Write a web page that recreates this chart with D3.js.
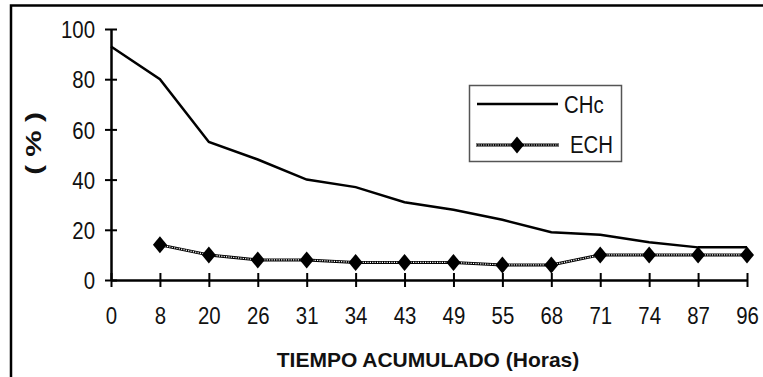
<!DOCTYPE html>
<html>
<head>
<meta charset="utf-8">
<script src="https://cdn.jsdelivr.net/npm/d3@7"></script>
<style>
  body { margin: 0; background: #fff; }
  text { font-family: "Liberation Sans", Arial, sans-serif; fill: #111; }
</style>
</head>
<body>
<div class="svg_area"></div>
<script>
// chart data
var horas = ["0", "8", "20", "26", "31", "34", "43", "49", "55", "68", "71", "74", "87", "96"];
var chc = [93, 80, 55, 48, 40, 37, 31, 28, 24, 19, 18, 15, 13, 13];
var ech = [null, 14, 10, 8, 8, 7, 7, 7, 6, 6, 10, 10, 10, 10];
var yTicks = [0, 20, 40, 60, 80, 100];

var svgWidth = 763;
var svgHeight = 377;

var margin = { top: 29, right: 16, bottom: 97, left: 111 };
var chartWidth = svgWidth - margin.left - margin.right;
var chartHeight = svgHeight - margin.top - margin.bottom;

// the original text is narrow, so squeeze it horizontally
var squeeze = 0.85;

var svg = d3.select(".svg_area")
  .append("svg")
  .attr("width", svgWidth)
  .attr("height", svgHeight);

// outer frame
svg.append("path")
  .attr("d", "M11,377 L11,5.5 L763,5.5")
  .attr("fill", "none")
  .attr("stroke", "#000")
  .attr("stroke-width", 2.5);

var chartGroup = svg.append("g")
  .attr("transform", `translate(${margin.left}, ${margin.top})`);

var xScale = d3.scalePoint()
  .domain(horas)
  .range([0, chartWidth]);

var yScale = d3.scaleLinear()
  .domain([0, 100])
  .range([chartHeight, 0]);

// axes
var bottomAxis = d3.axisBottom(xScale).tickSizeInner(7).tickSizeOuter(0);
var leftAxis = d3.axisLeft(yScale).tickValues(yTicks).tickSizeInner(6).tickSizeOuter(0);

var xAxisG = chartGroup.append("g")
  .attr("transform", `translate(0, ${chartHeight})`)
  .call(bottomAxis);
var yAxisG = chartGroup.append("g")
  .call(leftAxis);

[xAxisG, yAxisG].forEach(function(g) {
  g.select(".domain").attr("stroke", "#000").attr("stroke-width", 2.5);
  g.selectAll(".tick text")
    .attr("font-size", 24)
    .attr("font-family", null)
    .attr("fill", "#111")
    .attr("transform", `scale(${squeeze},1)`);
});
// ticks cross the axis line
xAxisG.selectAll(".tick line").attr("y1", -7).attr("y2", 7).attr("stroke", "#000").attr("stroke-width", 2);
yAxisG.selectAll(".tick line").attr("x1", -6).attr("x2", 6).attr("stroke", "#000").attr("stroke-width", 2);
xAxisG.selectAll(".tick text").attr("y", 44).attr("dy", 0);
yAxisG.selectAll(".tick text").attr("x", -16 / squeeze).attr("dy", "0.36em");

// CHc line
var lineChc = d3.line()
  .x((d, i) => xScale(horas[i]))
  .y(d => yScale(d));

chartGroup.append("path")
  .attr("d", lineChc(chc))
  .attr("fill", "none")
  .attr("stroke", "#000")
  .attr("stroke-width", 2.5);

// ECH line (textured, drawn as black + white dots)
var lineEch = d3.line()
  .defined(d => d !== null)
  .x((d, i) => xScale(horas[i]))
  .y(d => yScale(d));

chartGroup.append("path")
  .attr("d", lineEch(ech))
  .attr("fill", "none")
  .attr("stroke", "#000")
  .attr("stroke-width", 3);
chartGroup.append("path")
  .attr("d", lineEch(ech))
  .attr("fill", "none")
  .attr("stroke", "#fff")
  .attr("stroke-width", 1.2)
  .attr("stroke-dasharray", "1.2,1.2");

var diamond = "M0,-8.5 L7,0 L0,8.5 L-7,0 Z";

chartGroup.selectAll(".marker")
  .data(ech.map((v, i) => ({ h: horas[i], v: v })).filter(d => d.v !== null))
  .enter()
  .append("path")
  .attr("class", "marker")
  .attr("d", diamond)
  .attr("transform", d => `translate(${xScale(d.h)}, ${yScale(d.v)})`)
  .attr("fill", "#000");

// axis labels
svg.append("text")
  .attr("x", 428)
  .attr("y", 367)
  .attr("text-anchor", "middle")
  .attr("font-size", 21)
  .attr("font-weight", "bold")
  .text("TIEMPO ACUMULADO (Horas)");

svg.append("text")
  .attr("transform", "translate(41, 143.5) rotate(-90) scale(1.35,1)")
  .attr("text-anchor", "middle")
  .attr("font-size", 22)
  .attr("font-weight", "bold")
  .text("( % )");

// legend
var legend = svg.append("g");
legend.append("rect")
  .attr("x", 469.5)
  .attr("y", 85.5)
  .attr("width", 152)
  .attr("height", 76)
  .attr("fill", "#fff")
  .attr("stroke", "#555")
  .attr("stroke-width", 1.5);

legend.append("line")
  .attr("x1", 477).attr("x2", 558)
  .attr("y1", 104).attr("y2", 104)
  .attr("stroke", "#000").attr("stroke-width", 2.5);
legend.append("text")
  .attr("transform", `translate(564, 113) scale(${squeeze},1)`)
  .attr("font-size", 24)
  .text("CHc");

legend.append("line")
  .attr("x1", 476).attr("x2", 559)
  .attr("y1", 145).attr("y2", 145)
  .attr("stroke", "#000").attr("stroke-width", 3);
legend.append("line")
  .attr("x1", 476).attr("x2", 559)
  .attr("y1", 145).attr("y2", 145)
  .attr("stroke", "#fff").attr("stroke-width", 1.2)
  .attr("stroke-dasharray", "1.2,1.2");
legend.append("path")
  .attr("d", diamond)
  .attr("transform", "translate(517, 145)")
  .attr("fill", "#000");
legend.append("text")
  .attr("transform", `translate(570, 153) scale(${squeeze},1)`)
  .attr("font-size", 24)
  .text("ECH");
</script>
</body>
</html>
